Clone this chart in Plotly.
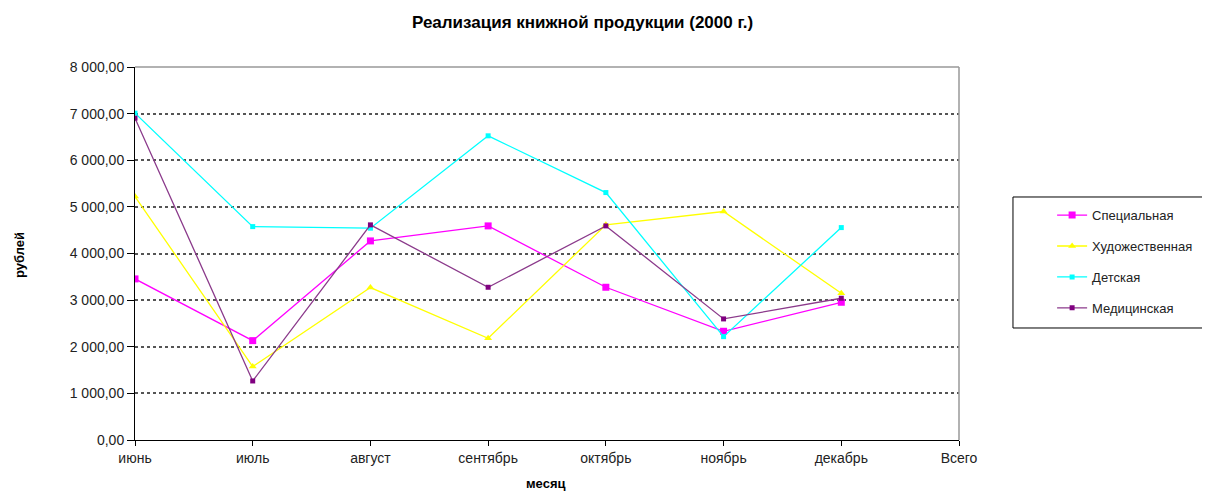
import plotly.graph_objects as go

months = ["июнь", "июль", "август", "сентябрь", "октябрь", "ноябрь", "декабрь", "Всего"]

special = [3455, 2131, 4270, 4592, 3276, 2332, 2954, None]
fiction = [5222, 1574, 3269, 2182, 4614, 4900, 3147, None]
children = [7010, 4577, 4543, 6524, 5307, 2217, 4556, None]
medical = [6903, 1266, 4614, 3276, 4592, 2597, 3040, None]

series_names = ["Специальная", "Художественная", "Детская", "Медицинская"]
series_values = [special, fiction, children, medical]
line_colors = ["#FF00FF", "#FFFF00", "#00FFFF", "#8B3A8B"]
marker_colors = ["#FF00FF", "#FFFF00", "#00FFFF", "#800080"]
marker_symbols = ["square", "triangle-up", "square", "square"]
marker_sizes = [7, 7, 5, 5]

yticks = [0, 1000, 2000, 3000, 4000, 5000, 6000, 7000, 8000]
ytext = ["0,00", "1 000,00", "2 000,00", "3 000,00", "4 000,00",
         "5 000,00", "6 000,00", "7 000,00", "8 000,00"]

FONT = "Liberation Sans, Arial, sans-serif"

fig = go.Figure()
for i, (name, vals) in enumerate(zip(series_names, series_values)):
    fig.add_trace(go.Scatter(
        x=months, y=vals, name=name, mode="lines+markers",
        line=dict(color=line_colors[i], width=1.3),
        marker=dict(color=marker_colors[i], symbol=marker_symbols[i], size=marker_sizes[i]),
        legendgroup=name, connectgaps=False,
    ))

fig.update_layout(
    width=1202, height=483,
    margin=dict(l=127, r=251, t=59, b=51),
    paper_bgcolor="white", plot_bgcolor="white",
    font=dict(family=FONT, size=14, color="#222"),
    showlegend=True,
    legend=dict(
        x=1.113, y=0.643, xanchor="left", yanchor="top",
        borderwidth=0,
        font=dict(family=FONT, size=13, color="#222"),
        traceorder="grouped", tracegroupgap=11,
        bgcolor="rgba(0,0,0,0)",
    ),
    xaxis=dict(
        type="category", categoryorder="array", categoryarray=months,
        range=[0, 7], showgrid=False, zeroline=False,
        showline=True, linecolor="#000", linewidth=1,
        ticks="outside", ticklen=5, tickcolor="#000",
        tickfont=dict(family=FONT, size=14, color="#222"),
    ),
    yaxis=dict(
        range=[0, 8000], tickvals=yticks, ticktext=ytext,
        showgrid=True, gridcolor="#555", griddash="dot", gridwidth=1.5,
        zeroline=False, showline=True, linecolor="#000", linewidth=1,
        ticks="outside", ticklen=7, tickcolor="#000",
        tickfont=dict(family=FONT, size=14, color="#222"),
    ),
    shapes=[
        dict(type="line", xref="paper", yref="paper", x0=0, x1=1, y0=1, y1=1,
             line=dict(color="#999", width=1.5), layer="above"),
        dict(type="line", xref="paper", yref="paper", x0=1, x1=1, y0=0, y1=1,
             line=dict(color="#999", width=1.5), layer="above"),
        dict(type="rect", xref="paper", yref="paper", x0=1.0655, x1=1.302, y0=0.3003, y1=0.6515,
             line=dict(color="#000", width=1), fillcolor="rgba(0,0,0,0)", layer="above"),
    ],
    annotations=[
        dict(text="<b>Реализация книжной продукции (2000 г.)</b>", xref="paper", yref="paper",
             x=0.5425, y=1, yshift=45, showarrow=False,
             font=dict(family=FONT, size=17, color="#000"), xanchor="center", yanchor="middle"),
        dict(text="<b>рублей</b>", xref="paper", yref="paper", x=0, xshift=-115, y=0.496,
             showarrow=False, textangle=-90,
             font=dict(family=FONT, size=13, color="#000"), xanchor="center", yanchor="middle"),
        dict(text="<b>месяц</b>", xref="paper", yref="paper", x=0.4976, y=0, yshift=-43,
             showarrow=False, font=dict(family=FONT, size=13, color="#000"),
             xanchor="center", yanchor="middle"),
    ],
)

fig.write_html("out.html")
